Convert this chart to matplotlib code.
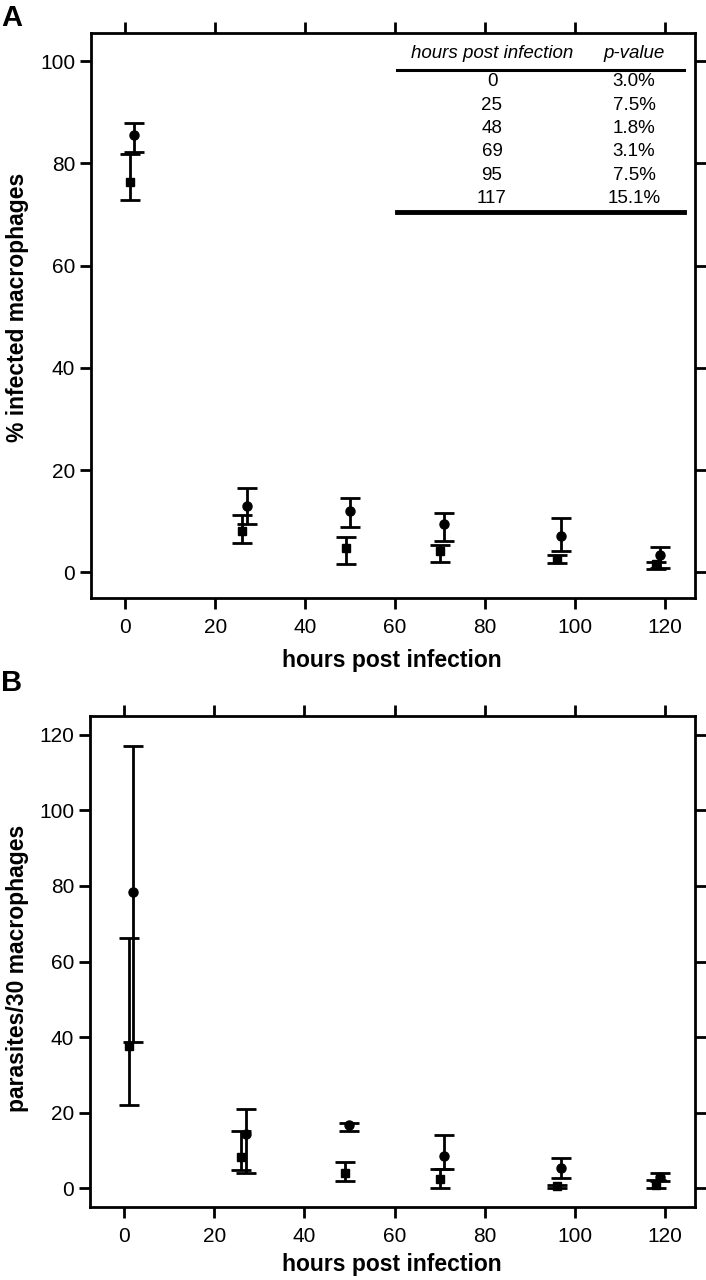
import matplotlib
matplotlib.use("Agg")
import matplotlib.pyplot as plt

plt.rcParams['font.family'] = ['Liberation Sans', 'DejaVu Sans']

# x positions (hours post infection, small offsets as in the figure)
x_square = [1, 26, 49, 70, 96, 118]
x_circle = [2, 27, 50, 71, 97, 119]

# panel A: % infected macrophages
a_sq = [76.4, 8.2, 4.8, 4.1, 2.6, 1.6]
a_sq_lo = [72.8, 5.8, 1.7, 2.0, 1.9, 0.7]
a_sq_hi = [81.9, 11.3, 7.0, 5.4, 3.4, 2.0]
a_ci = [85.6, 12.9, 12.0, 9.4, 7.1, 3.4]
a_ci_lo = [82.3, 9.5, 8.8, 6.2, 4.1, 0.8]
a_ci_hi = [87.9, 16.5, 14.6, 11.6, 10.7, 4.9]

# panel B: parasites/30 macrophages
b_sq = [37.5, 8.3, 3.9, 2.3, 0.5, 0.8]
b_sq_lo = [21.9, 4.9, 2.0, 0.0, 0.0, 0.0]
b_sq_hi = [66.3, 15.0, 6.9, 5.0, 0.9, 2.1]
b_ci = [78.3, 14.2, 16.7, 8.5, 5.3, 3.0]
b_ci_lo = [38.8, 4.0, 15.0, 5.0, 2.8, 2.0]
b_ci_hi = [117.1, 21.0, 17.2, 14.1, 8.1, 4.1]

# inset table
table_hours = ["0", "25", "48", "69", "95", "117"]
table_p = ["3.0%", "7.5%", "1.8%", "3.1%", "7.5%", "15.1%"]

W, H = 706, 1280
fig = plt.figure(figsize=(W / 100, H / 100), dpi=100)


def px_axes(left, top, right, bottom):
    return fig.add_axes([left / W, 1 - bottom / H, (right - left) / W, (bottom - top) / H])


def style(ax, ylim, yticks):
    ax.set_xlim(-7.6, 126.7)
    ax.set_ylim(*ylim)
    ax.set_xticks(range(0, 121, 20))
    ax.set_yticks(yticks)
    for s in ax.spines.values():
        s.set_linewidth(2)
    ax.tick_params(direction='out', length=8, width=2, labelsize=15,
                   top=True, right=True)
    ax.tick_params(axis='y', pad=3.5)
    ax.tick_params(axis='x', pad=6.5)


def draw(ax, ys, lo, hi, xs, marker, ms):
    yerr = [[y - l for y, l in zip(ys, lo)], [h - y for y, h in zip(ys, hi)]]
    ax.errorbar(xs, ys, yerr=yerr, fmt=marker, color='black', ms=ms,
                elinewidth=2, capsize=7, capthick=2)


axA = px_axes(91, 33, 695, 598)
style(axA, (-5, 105.5), range(0, 101, 20))
draw(axA, a_sq, a_sq_lo, a_sq_hi, x_square, 's', 5.5)
draw(axA, a_ci, a_ci_lo, a_ci_hi, x_circle, 'o', 6.5)

axB = px_axes(90, 716, 695, 1207)
style(axB, (-5, 125), range(0, 121, 20))
draw(axB, b_sq, b_sq_lo, b_sq_hi, x_square, 's', 5.5)
draw(axB, b_ci, b_ci_lo, b_ci_hi, x_circle, 'o', 6.5)

for ax, ylab, ylab_y, xlab_y in [(axA, "% infected macrophages", 307, 661),
                                 (axB, "parasites/30 macrophages", 968, 1265)]:
    fig.text(18 / W, 1 - ylab_y / H, ylab, rotation=90,
             ha='center', va='center', fontsize=16.5, fontweight='bold')
    fig.text(392 / W, 1 - xlab_y / H, "hours post infection",
             ha='center', va='center', fontsize=16.5, fontweight='bold')

fig.text(12 / W, 1 - 18 / H, "A", ha='center', va='center', fontsize=21, fontweight='bold')
fig.text(12 / W, 1 - 683 / H, "B", ha='center', va='center', fontsize=21, fontweight='bold')

# table inside panel A (figure pixel coords)
col1, col2 = 492 / W, 634 / W
fig.text(col1, 1 - 53 / H, "hours post infection", style='italic',
         ha='center', va='center', fontsize=13.5)
fig.text(col2, 1 - 53 / H, "p-value", style='italic',
         ha='center', va='center', fontsize=13.5)
fig.add_artist(plt.Line2D([397 / W, 684 / W], [1 - 70 / H, 1 - 70 / H],
                          color='black', lw=2.2))
for i, (h, p) in enumerate(zip(table_hours, table_p)):
    yy = 1 - (82 + i * 23.3) / H
    fig.text(col1, yy, h, ha='center', va='center', fontsize=13.5)
    fig.text(col2, yy, p, ha='center', va='center', fontsize=13.5)
fig.add_artist(plt.Line2D([397 / W, 684 / W], [1 - 212 / H, 1 - 212 / H],
                          color='black', lw=3.5))

fig.savefig("out.png", dpi=100)
